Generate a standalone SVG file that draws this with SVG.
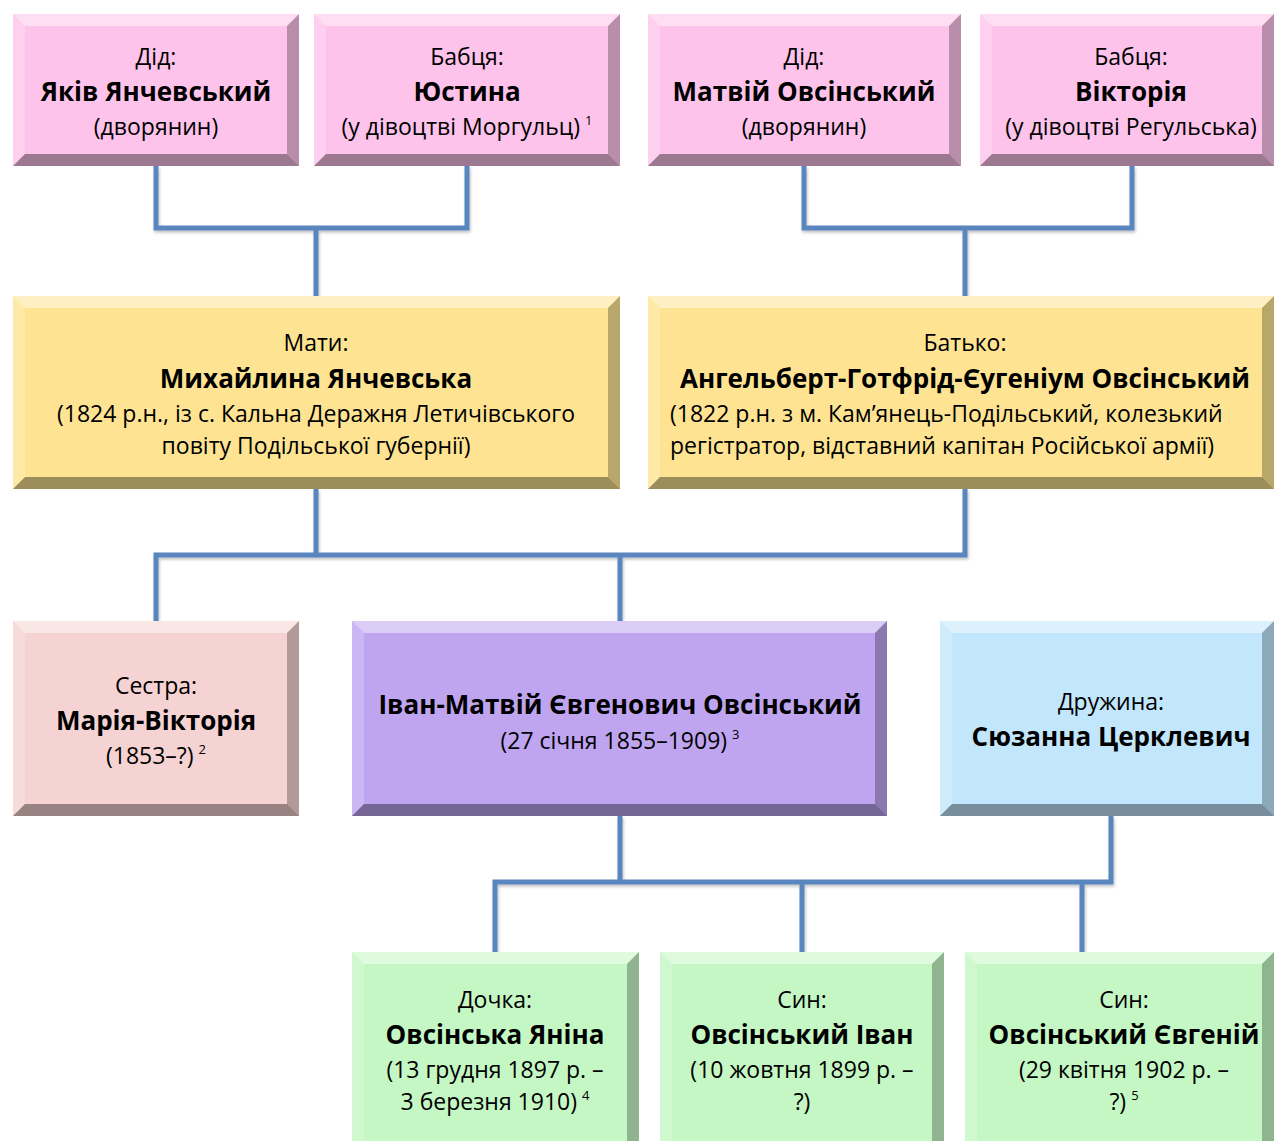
<svg xmlns="http://www.w3.org/2000/svg" width="1274" height="1141" viewBox="0 0 1274 1141">
<defs>
<filter id="sh" x="-5%" y="-5%" width="110%" height="115%">
<feDropShadow dx="1" dy="2" stdDeviation="1.5" flood-color="#000" flood-opacity="0.25"/>
</filter>
</defs>
<style>
text{font-family:"Open Sans","Noto Sans","DejaVu Sans",sans-serif;fill:#000;text-anchor:middle}
.l{font-size:23px}
.b{font-size:26px;font-weight:bold}
.st{text-anchor:start}
.sup{font-size:13px}
.conn{fill:none;stroke:#5A86C0;stroke-width:5;stroke-linejoin:miter}
.hi{fill:#fff;opacity:0.45}
.hl{fill:#fff;opacity:0.2}
.dk{fill:#000;opacity:0.38}
.dr{fill:#000;opacity:0.27}
.pk{fill:#FEC3EA}.ye{fill:#FEE492}.ro{fill:#F5D3D2}.pu{fill:#BFA5F0}.bl{fill:#C2E6FC}.gr{fill:#C4F7C4}
</style>

<g id="connectors" filter="url(#sh)">
<path class="conn" d="M156,166 V228 H467 V166"/>
<path class="conn" d="M316,228 V296"/>
<path class="conn" d="M804,166 V228 H1132 V166"/>
<path class="conn" d="M965,228 V296"/>
<path class="conn" d="M316,489 V555 M965,489 V555 H156 V621 M620,555 V621"/>
<path class="conn" d="M620,816 V882 M1111,816 V882 H495 V952 M802,882 V952 M1082,882 V952"/>
</g>

<g id="n1">
<rect class="pk" x="13" y="14" width="286" height="152"/>
<polygon class="hi" points="13,14 299,14 287,26 25,26"/><polygon class="hl" points="13,14 25,26 25,154 13,166"/><polygon class="dk" points="13,166 25,154 287,154 299,166"/><polygon class="dr" points="299,14 299,166 287,154 287,26"/>
<text class="l" x="156" y="65">Дід:</text>
<text class="b" x="156" y="101">Яків Янчевський</text>
<text class="l" x="156" y="135">(дворянин)</text>
</g>
<g id="n2">
<rect class="pk" x="314" y="14" width="306" height="152"/>
<polygon class="hi" points="314,14 620,14 608,26 326,26"/><polygon class="hl" points="314,14 326,26 326,154 314,166"/><polygon class="dk" points="314,166 326,154 608,154 620,166"/><polygon class="dr" points="620,14 620,166 608,154 608,26"/>
<text class="l" x="467" y="65">Бабця:</text>
<text class="b" x="467" y="101">Юстина</text>
<text class="l" x="467" y="135">(у дівоцтві Моргульц)<tspan class="sup" dx="5" dy="-10">1</tspan></text>
</g>
<g id="n3">
<rect class="pk" x="648" y="14" width="313" height="152"/>
<polygon class="hi" points="648,14 961,14 949,26 660,26"/><polygon class="hl" points="648,14 660,26 660,154 648,166"/><polygon class="dk" points="648,166 660,154 949,154 961,166"/><polygon class="dr" points="961,14 961,166 949,154 949,26"/>
<text class="l" x="804" y="65">Дід:</text>
<text class="b" x="804" y="101">Матвій Овсінський</text>
<text class="l" x="804" y="135">(дворянин)</text>
</g>
<g id="n4">
<rect class="pk" x="980" y="14" width="294" height="152"/>
<polygon class="hi" points="980,14 1274,14 1262,26 992,26"/><polygon class="hl" points="980,14 992,26 992,154 980,166"/><polygon class="dk" points="980,166 992,154 1262,154 1274,166"/><polygon class="dr" points="1274,14 1274,166 1262,154 1262,26"/>
<text class="l" x="1131" y="65">Бабця:</text>
<text class="b" x="1131" y="101">Вікторія</text>
<text class="l" x="1131" y="135">(у дівоцтві Регульська)</text>
</g>

<g id="n5">
<rect class="ye" x="13" y="296" width="607" height="193"/>
<polygon class="hi" points="13,296 620,296 608,308 25,308"/><polygon class="hl" points="13,296 25,308 25,477 13,489"/><polygon class="dk" points="13,489 25,477 608,477 620,489"/><polygon class="dr" points="620,296 620,489 608,477 608,308"/>
<text class="l" x="316" y="351">Мати:</text>
<text class="b" x="316" y="388">Михайлина Янчевська</text>
<text class="l" x="316" y="422">(1824 р.н., із с. Кальна Деражня Летичівського</text>
<text class="l" x="316" y="454">повіту Подільської губернії)</text>
</g>
<g id="n6">
<rect class="ye" x="648" y="296" width="626" height="193"/>
<polygon class="hi" points="648,296 1274,296 1262,308 660,308"/><polygon class="hl" points="648,296 660,308 660,477 648,489"/><polygon class="dk" points="648,489 660,477 1262,477 1274,489"/><polygon class="dr" points="1274,296 1274,489 1262,477 1262,308"/>
<text class="l" x="965" y="351">Батько:</text>
<text class="b" x="965" y="388">Ангельберт-Готфрід-Єугеніум Овсінський</text>
<text class="l st" x="670" y="422">(1822 р.н. з м. Кам’янець-Подільський, колезький</text>
<text class="l st" x="670" y="454">регістратор, відставний капітан Російської армії)</text>
</g>

<g id="n7">
<rect class="ro" x="13" y="621" width="286" height="195"/>
<polygon class="hi" points="13,621 299,621 287,633 25,633"/><polygon class="hl" points="13,621 25,633 25,804 13,816"/><polygon class="dk" points="13,816 25,804 287,804 299,816"/><polygon class="dr" points="299,621 299,816 287,804 287,633"/>
<text class="l" x="156" y="694">Сестра:</text>
<text class="b" x="156" y="730">Марія-Вікторія</text>
<text class="l" x="156" y="764">(1853–?)<tspan class="sup" dx="5" dy="-10">2</tspan></text>
</g>
<g id="n8">
<rect class="pu" x="352" y="621" width="535" height="195"/>
<polygon class="hi" points="352,621 887,621 875,633 364,633"/><polygon class="hl" points="352,621 364,633 364,804 352,816"/><polygon class="dk" points="352,816 364,804 875,804 887,816"/><polygon class="dr" points="887,621 887,816 875,804 875,633"/>
<text class="b" x="620" y="714">Іван-Матвій Євгенович Овсінський</text>
<text class="l" x="620" y="749">(27 січня 1855–1909)<tspan class="sup" dx="5" dy="-10">3</tspan></text>
</g>
<g id="n9">
<rect class="bl" x="940" y="621" width="334" height="195"/>
<polygon class="hi" points="940,621 1274,621 1262,633 952,633"/><polygon class="hl" points="940,621 952,633 952,804 940,816"/><polygon class="dk" points="940,816 952,804 1262,804 1274,816"/><polygon class="dr" points="1274,621 1274,816 1262,804 1262,633"/>
<text class="l" x="1111" y="710">Дружина:</text>
<text class="b" x="1111" y="746">Сюзанна Церклевич</text>
</g>

<g id="n10">
<rect class="gr" x="352" y="952" width="287" height="200"/>
<polygon class="hi" points="352,952 639,952 627,964 364,964"/><polygon class="hl" points="352,952 364,964 364,1141 352,1141"/><polygon class="dr" points="639,952 639,1141 627,1141 627,964"/>
<text class="l" x="495" y="1008">Дочка:</text>
<text class="b" x="495" y="1044">Овсінська Яніна</text>
<text class="l" x="495" y="1078">(13 грудня 1897 р. –</text>
<text class="l" x="495" y="1110">3 березня 1910)<tspan class="sup" dx="5" dy="-10">4</tspan></text>
</g>
<g id="n11">
<rect class="gr" x="660" y="952" width="284" height="200"/>
<polygon class="hi" points="660,952 944,952 932,964 672,964"/><polygon class="hl" points="660,952 672,964 672,1141 660,1141"/><polygon class="dr" points="944,952 944,1141 932,1141 932,964"/>
<text class="l" x="802" y="1008">Син:</text>
<text class="b" x="802" y="1044">Овсінський Іван</text>
<text class="l" x="802" y="1078">(10 жовтня 1899 р. –</text>
<text class="l" x="802" y="1110">?)</text>
</g>
<g id="n12">
<rect class="gr" x="965" y="952" width="309" height="200"/>
<polygon class="hi" points="965,952 1274,952 1262,964 977,964"/><polygon class="hl" points="965,952 977,964 977,1141 965,1141"/><polygon class="dr" points="1274,952 1274,1141 1262,1141 1262,964"/>
<text class="l" x="1124" y="1008">Син:</text>
<text class="b" x="1124" y="1044">Овсінський Євгеній</text>
<text class="l" x="1124" y="1078">(29 квітня 1902 р. –</text>
<text class="l" x="1124" y="1110">?)<tspan class="sup" dx="5" dy="-10">5</tspan></text>
</g>
</svg>
